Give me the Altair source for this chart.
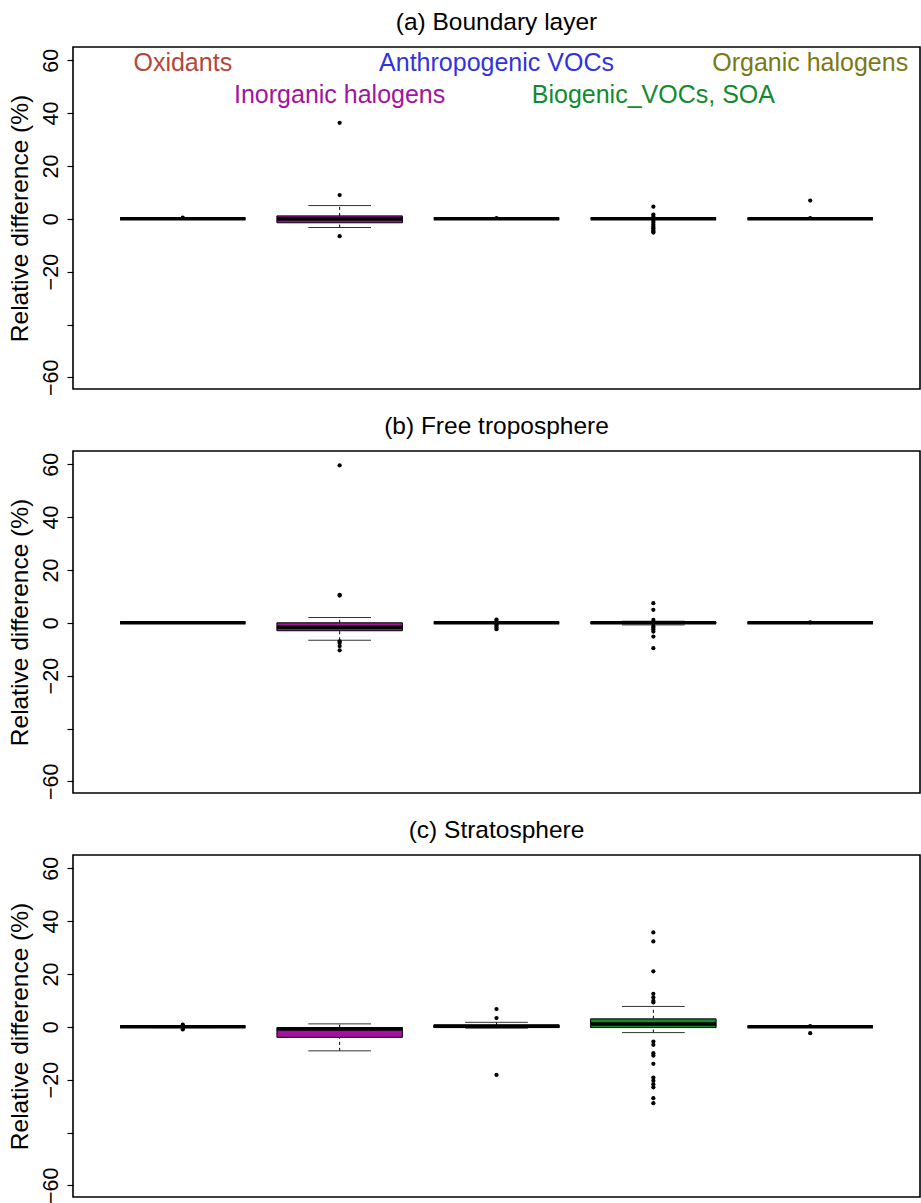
import altair as alt
import pandas as pd

# ---- data ----
groups = ["Oxidants", "Inorganic halogens", "Anthropogenic VOCs", "Biogenic_VOCs, SOA", "Organic halogens"]
group_colors = ["#B5473A", "#A3139F", "#3333DD", "#128A2E", "#7A7A12"]
box_fills = ["#B5473A", "#A3119E", "#3333DD", "#0F8A2C", "#7A7A12"]
label_y = [59, 47, 59, 47, 59]

panels = ["(a) Boundary layer", "(b) Free troposphere", "(c) Stratosphere"]

# summary statistics per panel, one value per group
q1 = {
    "(a) Boundary layer":   [0.0, -1.5, 0.0, 0.0, 0.0],
    "(b) Free troposphere": [0.0, -3.0, 0.0, -0.2, 0.0],
    "(c) Stratosphere":     [0.0, -4.0, -0.3, -0.3, 0.0],
}
median = {
    "(a) Boundary layer":   [0.0, -0.1, 0.0, 0.0, 0.0],
    "(b) Free troposphere": [0.0, -1.7, 0.0, 0.0, 0.0],
    "(c) Stratosphere":     [0.0, -0.8, 0.3, 1.1, 0.0],
}
q3 = {
    "(a) Boundary layer":   [0.0, 1.1, 0.0, 0.0, 0.0],
    "(b) Free troposphere": [0.0, 0.0, 0.0, 0.2, 0.0],
    "(c) Stratosphere":     [0.0, -0.3, 0.6, 3.0, 0.0],
}
whisk_lo = {
    "(a) Boundary layer":   [0.0, -3.3, 0.0, 0.0, 0.0],
    "(b) Free troposphere": [0.0, -6.6, 0.0, -0.8, 0.0],
    "(c) Stratosphere":     [-0.3, -9.1, -0.5, -2.2, 0.0],
}
whisk_hi = {
    "(a) Boundary layer":   [0.0, 5.0, 0.0, 0.0, 0.0],
    "(b) Free troposphere": [0.0, 2.0, 0.0, 0.6, 0.0],
    "(c) Stratosphere":     [0.3, 1.1, 1.7, 7.7, 0.0],
}
outliers = {
    "(a) Boundary layer": [
        [0.4],
        [36.3, 9.0, -6.6],
        [0.3],
        [4.6, 1.6, 0.8, -0.8, -1.5, -2.3, -3.0, -3.6, -4.2, -4.8, -5.2],
        [6.9, 0.3],
    ],
    "(b) Free troposphere": [
        [],
        [59.6, 10.6, 10.3, -7.0, -7.6, -8.8, -10.4],
        [1.2, 0.6, -0.6, -1.2, -1.8, -2.4],
        [7.4, 4.9, 1.1, -1.2, -1.8, -2.5, -3.3, -5.2, -9.6],
        [0.2],
    ],
    "(c) Stratosphere": [
        [0.8, 0.4, -0.5, -1.0],
        [],
        [6.7, 3.3, -18.2],
        [35.7, 32.3, 21.0, 12.5, 11.1, 9.8, 9.2,
         -5.6, -6.8, -10.0, -10.9, -14.0, -19.2, -20.4, -21.7, -22.9, -27.0, -28.9],
        [0.3, -2.4],
    ],
}

FONT = "Liberation Sans"
W, H = 847, 342
YDOM = [-64.4, 65.0]


def panel_chart(name, with_labels):
    rows = []
    for i, g in enumerate(groups):
        rows.append(dict(group=g, pos=i + 1, q1=q1[name][i], med=median[name][i],
                         q3=q3[name][i], lo=whisk_lo[name][i], hi=whisk_hi[name][i],
                         fill=box_fills[i]))
    bdf = pd.DataFrame(rows)
    orows = []
    for i, g in enumerate(groups):
        for v in outliers[name][i]:
            orows.append(dict(group=g, pos=i + 1, value=v))
    odf = pd.DataFrame(orows, columns=["group", "pos", "value"])

    xs = alt.Scale(domain=[0.3, 5.7], nice=False, zero=False)
    ys = alt.Scale(domain=YDOM, nice=False, zero=False)
    yaxis = alt.Axis(
        values=[-60, -40, -20, 0, 20, 40, 60],
        labelExpr="datum.value == -40 ? '' : replace(format(datum.value, 'd'), '-', '\u2212')",
        title="Relative difference (%)",
        titleFontSize=24.5, titleFont=FONT, titleFontWeight="normal", titleColor="black",
        labelFontSize=21.5, labelFont=FONT, labelColor="black",
        labelAngle=270, labelAlign="center", labelBaseline="bottom",
        labelPadding=5, tickSize=6, tickColor="black", tickWidth=1.2,
        domain=False, grid=False, titlePadding=8,
    )

    base = alt.Chart(bdf)

    whisk_up = base.mark_rule(color="black", strokeWidth=1, strokeDash=[3, 3]).encode(
        x=alt.X("pos:Q", scale=xs, axis=None),
        y=alt.Y("q3:Q", scale=ys, axis=yaxis),
        y2="hi:Q",
    )
    whisk_dn = base.mark_rule(color="black", strokeWidth=1, strokeDash=[3, 3]).encode(
        x=alt.X("pos:Q", scale=xs), y=alt.Y("lo:Q", scale=ys), y2="q1:Q"
    )
    staple_hi = base.transform_calculate(a="datum.pos - 0.2", b="datum.pos + 0.2").mark_rule(
        color="#333333", strokeWidth=1).encode(
        x=alt.X("a:Q", scale=xs), x2="b:Q", y=alt.Y("hi:Q", scale=ys))
    staple_lo = base.transform_calculate(a="datum.pos - 0.2", b="datum.pos + 0.2").mark_rule(
        color="#333333", strokeWidth=1).encode(
        x=alt.X("a:Q", scale=xs), x2="b:Q", y=alt.Y("lo:Q", scale=ys))
    box = base.transform_calculate(a="datum.pos - 0.4", b="datum.pos + 0.4").mark_rect(
        stroke="black", strokeWidth=1).encode(
        x=alt.X("a:Q", scale=xs), x2="b:Q",
        y=alt.Y("q1:Q", scale=ys), y2="q3:Q",
        fill=alt.Color("fill:N", scale=None),
    )
    med = base.transform_calculate(a="datum.pos - 0.4", b="datum.pos + 0.4").mark_rule(
        color="black", strokeWidth=3.5).encode(
        x=alt.X("a:Q", scale=xs), x2="b:Q", y=alt.Y("med:Q", scale=ys))
    pts = alt.Chart(odf).mark_circle(color="black", opacity=1, size=18).encode(
        x=alt.X("pos:Q", scale=xs), y=alt.Y("value:Q", scale=ys))

    layers = [whisk_up, whisk_dn, staple_hi, staple_lo, box, med, pts]
    if with_labels:
        ldf = pd.DataFrame(dict(group=groups, pos=[1, 2, 3, 4, 5], ly=label_y, col=group_colors))
        labels = alt.Chart(ldf).mark_text(font=FONT, fontSize=25, baseline="middle", align="center").encode(
            x=alt.X("pos:Q", scale=xs), y=alt.Y("ly:Q", scale=ys),
            text="group:N", color=alt.Color("col:N", scale=None),
        )
        layers.append(labels)

    return alt.layer(*layers).properties(
        width=W, height=H,
        title=alt.TitleParams(name, font=FONT, fontSize=24.5, fontWeight="normal",
                              color="black", anchor="middle", offset=12),
    )


chart = alt.vconcat(
    panel_chart(panels[0], True),
    panel_chart(panels[1], False),
    panel_chart(panels[2], False),
    spacing=15,
).properties(
    padding={"left": 6, "top": 8, "right": 0, "bottom": 0},
    background="white",
).configure_view(stroke="black", strokeWidth=1.6)

chart.save("out.html", embed_options={"renderer": "svg", "actions": False})
